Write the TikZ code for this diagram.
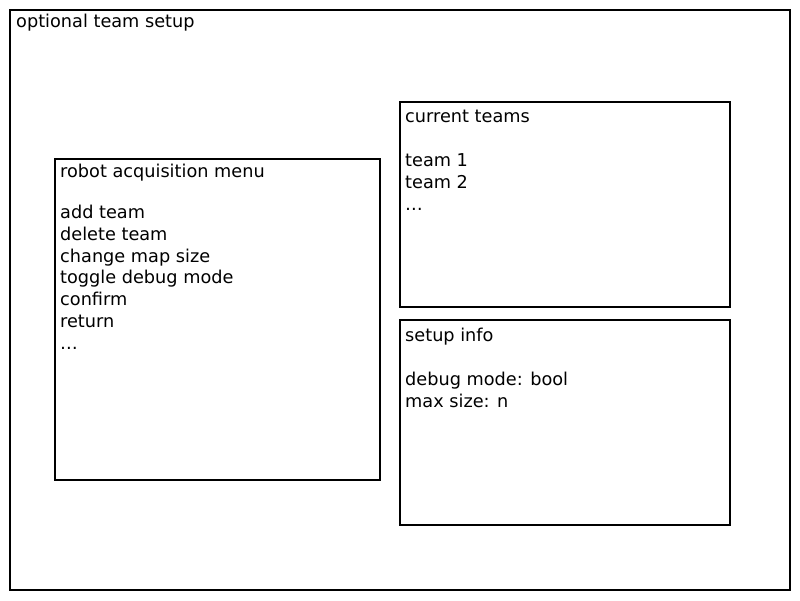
\documentclass[tikz,border=0pt]{standalone}
\usepackage{fontspec}
\setmainfont{DejaVu Sans}
\begin{document}
\begin{tikzpicture}[x=1pt,y=-1pt,
  frame/.style={draw=black,line width=2.6pt},
  lbl/.style={anchor=base west,inner sep=0pt,font=\fontsize{17.7}{22}\selectfont}]
\useasboundingbox[fill=white] (0,0) rectangle (800,600);
\draw[frame] (10,10) rectangle (790,590);
\draw[frame] (55,159) rectangle (380,480);
\draw[frame] (400,102) rectangle (730,307);
\draw[frame] (400,320) rectangle (730,525);
\node[lbl] (t0) at (16,27) {optional team setup};
\node[lbl] (m0) at (60,177) {robot acquisition menu};
\node[lbl] (m1) at (60,218) {add team};
\node[lbl] (m2) at (60,240) {delete team};
\node[lbl] (m3) at (60,262) {change map size};
\node[lbl] (m4) at (60,283) {toggle debug mode};
\node[lbl] (m5) at (60,305) {confirm};
\node[lbl] (m6) at (60,327) {return};
\node[lbl] (m7) at (60,349) {\dots};
\node[lbl] (c0) at (405,122) {current teams};
\node[lbl] (c1) at (405,166) {team 1};
\node[lbl] (c2) at (405,188) {team 2};
\node[lbl] (c3) at (405,210) {\dots};
\node[lbl] (s0) at (405,341) {setup info};
\node[lbl] (s1) at (405,385) {debug mode: bool};
\node[lbl] (s2) at (405,407) {max size: n};
\end{tikzpicture}
\end{document}
